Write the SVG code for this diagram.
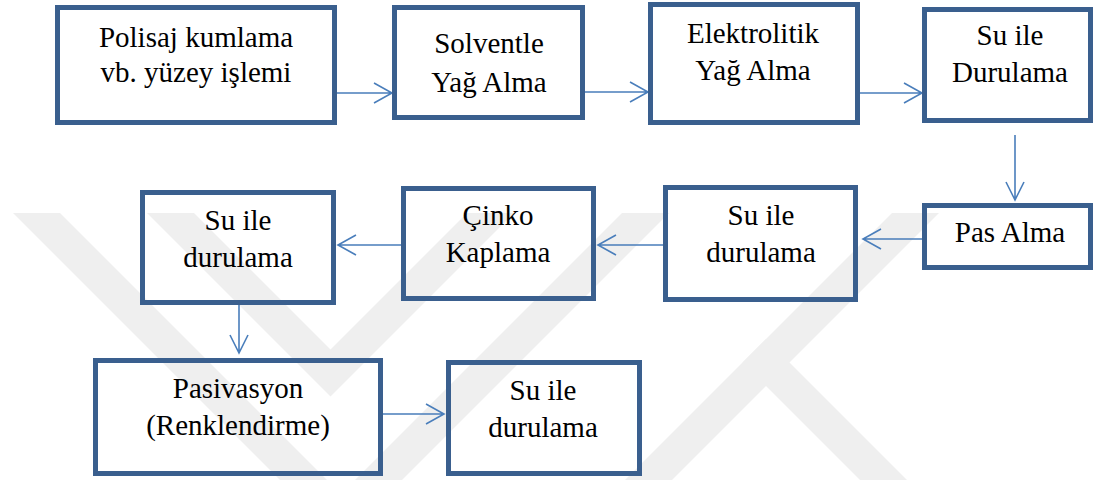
<svg xmlns="http://www.w3.org/2000/svg" width="1094" height="480" viewBox="0 0 1094 480">
<style>
.box{fill:none;stroke:#3A5F8E;stroke-width:5}
.wm{fill:#EFEFEF}
.c{stroke:#4A7EBB;stroke-width:1.6;fill:none}
</style>
<rect width="1094" height="480" fill="#fff"/>
<g id="watermark">
<polygon class="wm" points="13,213 60,213 327,480 280,480"/>
<polygon class="wm" points="622,213 669,213 402,480 355,480"/>
<polygon class="wm" points="147,213 194,213 330.5,349.5 467,213 514,213 330.5,396.5"/>
<polygon class="wm" points="892,213 939,213 672,480 625,480"/>
<polygon class="wm" points="742.5,362.5 766,339 907,480 860,480"/>
</g>
<g id="connectors">
<path class="c" d="M337,93 H392 M374,83 L392,93 L374,103"/>
<path class="c" d="M585,92 H648 M630,82 L648,92 L630,102"/>
<path class="c" d="M860,93 H922 M904,83 L922,93 L904,103"/>
<path class="c" d="M1015,135 V200 M1006,182 L1015,200 L1024,182"/>
<path class="c" d="M922,239 H863 M881,229 L863,239 L881,249"/>
<path class="c" d="M663,245 H598 M616,235 L598,245 L616,255"/>
<path class="c" d="M401,245 H338 M356,235 L338,245 L356,255"/>
<path class="c" d="M239,300 V353 M230,335 L239,353 L248,335"/>
<path class="c" d="M383,414 H444 M426,404 L444,414 L426,424"/>
</g>
<g id="n1"><rect class="box" x="57.5" y="7.5" width="277" height="115"/>
<text x="196" y="47" style="font-family:'Liberation Serif',serif;font-size:29px" text-anchor="middle">Polisaj kumlama</text>
<text x="196" y="82" style="font-family:'Liberation Serif',serif;font-size:29px" text-anchor="middle">vb. yüzey işlemi</text></g>
<g id="n2"><rect class="box" x="394.5" y="7.5" width="188" height="110"/>
<text x="489" y="53" style="font-family:'Liberation Serif',serif;font-size:29px" text-anchor="middle">Solventle</text>
<text x="489" y="92" style="font-family:'Liberation Serif',serif;font-size:29px" text-anchor="middle">Yağ Alma</text></g>
<g id="n3"><rect class="box" x="650.5" y="4.5" width="207" height="118"/>
<text x="753" y="43" style="font-family:'Liberation Serif',serif;font-size:29px" text-anchor="middle">Elektrolitik</text>
<text x="753" y="80" style="font-family:'Liberation Serif',serif;font-size:29px" text-anchor="middle">Yağ Alma</text></g>
<g id="n4"><rect class="box" x="924.5" y="9.5" width="166" height="111"/>
<text x="1010" y="45" style="font-family:'Liberation Serif',serif;font-size:29px" text-anchor="middle">Su ile</text>
<text x="1010" y="82" style="font-family:'Liberation Serif',serif;font-size:29px" text-anchor="middle">Durulama</text></g>
<g id="n5"><rect class="box" x="924.5" y="205.5" width="166" height="62"/>
<text x="1010" y="242" style="font-family:'Liberation Serif',serif;font-size:29px" text-anchor="middle">Pas Alma</text></g>
<g id="n6"><rect class="box" x="665.5" y="187.5" width="190" height="112"/>
<text x="761" y="225" style="font-family:'Liberation Serif',serif;font-size:29px" text-anchor="middle">Su ile</text>
<text x="761" y="262" style="font-family:'Liberation Serif',serif;font-size:29px" text-anchor="middle">durulama</text></g>
<g id="n7"><rect class="box" x="403.5" y="188.5" width="190" height="110"/>
<text x="498" y="225" style="font-family:'Liberation Serif',serif;font-size:29px" text-anchor="middle">Çinko</text>
<text x="498" y="262" style="font-family:'Liberation Serif',serif;font-size:29px" text-anchor="middle">Kaplama</text></g>
<g id="n8"><rect class="box" x="142.5" y="192.5" width="191" height="110"/>
<text x="238" y="230" style="font-family:'Liberation Serif',serif;font-size:29px" text-anchor="middle">Su ile</text>
<text x="238" y="267" style="font-family:'Liberation Serif',serif;font-size:29px" text-anchor="middle">durulama</text></g>
<g id="n9"><rect class="box" x="95.5" y="360.5" width="285" height="113"/>
<text x="238" y="398" style="font-family:'Liberation Serif',serif;font-size:29px" text-anchor="middle">Pasivasyon</text>
<text x="238" y="435" style="font-family:'Liberation Serif',serif;font-size:29px" text-anchor="middle">(Renklendirme)</text></g>
<g id="n10"><rect class="box" x="448.5" y="362.5" width="191" height="111"/>
<text x="543" y="400" style="font-family:'Liberation Serif',serif;font-size:29px" text-anchor="middle">Su ile</text>
<text x="543" y="437" style="font-family:'Liberation Serif',serif;font-size:29px" text-anchor="middle">durulama</text></g>
</svg>
